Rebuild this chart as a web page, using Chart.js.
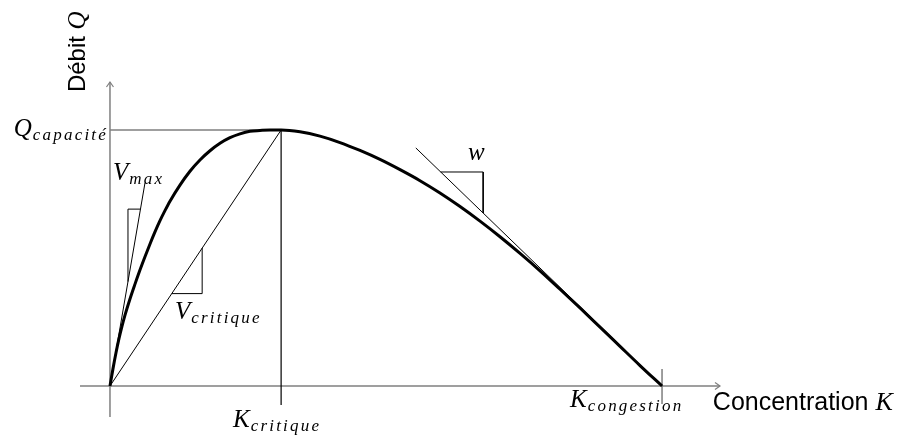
<!DOCTYPE html>
<html>
<head>
<meta charset="utf-8">
<script src="https://cdn.jsdelivr.net/npm/chart.js@4"></script>
<style>
  body { margin: 0; background: #fff; }
  #wrap { width: 911px; height: 437px; }
</style>
</head>
<body>
<div id="wrap"><canvas id="chart"></canvas></div>
<script>
// courbe debit-concentration, K en % de K_congestion, Q en % de Q_capacite
const courbeK = [0, 0.54, 1.09, 1.63, 2.17, 2.72, 3.62, 4.53, 5.43, 6.34, 7.25, 8.15, 9.06, 9.96, 10.87,
    12.68, 14.49, 16.30, 18.12, 19.93, 21.74, 23.55, 25.36, 27.17, 28.99, 31,
    34.42, 38.04, 41.67, 45.29, 48.91, 52.54, 56.16, 59.78, 63.41, 67.03, 70.65, 74.28, 77.90,
    81.52, 85.14, 88.77, 92.39, 96.01, 100];
const courbeQ = [0, 6.7, 13.0, 18.5, 23.3, 27.7, 34.0, 39.8, 45.3, 50.5, 55.5, 60.2, 64.6, 68.5, 72.2,
    78.5, 83.9, 88.3, 91.9, 94.8, 97.0, 98.5, 99.5, 99.8, 100, 100,
    99.3, 97.6, 95.1, 92.0, 88.5, 84.5, 80.2, 75.4, 70.1, 64.4, 58.3, 51.8, 45.0,
    37.8, 30.5, 23.0, 15.5, 8.0, 0];

const K_CRITIQUE = 31;
const K_CONGESTION = 100;
const Q_CAPACITE = 100;

// bornes des axes
const axeK = [-5.43, 110.5];
const axeQ = [-12.1, 118.75];

// droites et triangles de pente
const vmaxK = [0, 6.34], vmaxQ = [0, 79.3];
const triVmaxK = [3.26, 3.26, 5.52], triVmaxQ = [40.8, 69.1, 69.1];
const vcritK = [0, K_CRITIQUE], vcritQ = [0, Q_CAPACITE];
const triVcritK = [11.2, 16.7, 16.7], triVcritQ = [36.1, 36.1, 53.9];
const wK = [55.4, K_CONGESTION], wQ = [93, 0];
const triWK = [59.9, 67.6, 67.6], triWQ = [83.6, 83.6, 67.6];

const pts = (ks, qs) => ks.map((k, i) => ({ x: k, y: qs[i] }));

const GRIS = '#7f7f7f';
const NOIR = '#000';

function trait(data, color, width, extra) {
    return Object.assign({
        data: data,
        showLine: true,
        borderColor: color,
        borderWidth: width,
        pointRadius: 0,
        fill: false,
        clip: false
    }, extra || {});
}

const etiquettes = [
    { main: 'Q', sub: 'capacité', k: -0.36, q: 97.7, align: 'right' },
    { main: 'V', sub: 'max', k: 0.54, q: 80.5 },
    { main: 'V', sub: 'critique', k: 11.78, q: 26.2 },
    { main: 'w', sub: '', k: 64.86, q: 88.3 },
    { main: 'K', sub: 'critique', k: 22.28, q: -16.0 },
    { main: 'K', sub: 'congestion', k: 83.33, q: -8.2 }
];

const SERIF = '"Liberation Serif", "Times New Roman", serif';
const SANS = '"Liberation Sans", Arial, sans-serif';

function drawMath(ctx, main, sub, x, y, align) {
    ctx.font = 'italic 25px ' + SERIF;
    ctx.letterSpacing = '0px';
    const wMain = ctx.measureText(main).width;
    ctx.font = 'italic 17px ' + SERIF;
    ctx.letterSpacing = '2.2px';
    const wSub = sub ? ctx.measureText(sub).width : 0;
    let x0 = align === 'right' ? x - wMain - wSub - 1 : x;
    ctx.textAlign = 'left';
    ctx.textBaseline = 'alphabetic';
    ctx.font = 'italic 25px ' + SERIF;
    ctx.letterSpacing = '0px';
    ctx.fillText(main, x0, y);
    if (sub) {
        ctx.font = 'italic 17px ' + SERIF;
        ctx.letterSpacing = '2.2px';
        ctx.fillText(sub, x0 + wMain + 1, y + 4);
    }
    ctx.letterSpacing = '0px';
}

const decor = {
    id: 'decor',
    afterDraw(chart) {
        const ctx = chart.ctx;
        const xs = chart.scales.x, ys = chart.scales.y;
        ctx.save();
        // fleches des axes
        ctx.strokeStyle = GRIS;
        ctx.lineWidth = 1.2;
        const xe = xs.getPixelForValue(axeK[1]), y0 = ys.getPixelForValue(0);
        ctx.beginPath();
        ctx.moveTo(xe - 5, y0 - 3.5); ctx.lineTo(xe, y0); ctx.lineTo(xe - 5, y0 + 3.5);
        ctx.stroke();
        const x0 = xs.getPixelForValue(0), ye = ys.getPixelForValue(axeQ[1]);
        ctx.beginPath();
        ctx.moveTo(x0 - 3.5, ye + 5); ctx.lineTo(x0, ye); ctx.lineTo(x0 + 3.5, ye + 5);
        ctx.stroke();

        ctx.fillStyle = NOIR;
        etiquettes.forEach(e => {
            drawMath(ctx, e.main, e.sub, xs.getPixelForValue(e.k), ys.getPixelForValue(e.q), e.align);
        });

        // titre axe horizontal
        let tx = xs.getPixelForValue(109.2), ty = ys.getPixelForValue(-9.4);
        ctx.font = '25px ' + SANS;
        ctx.textAlign = 'left';
        ctx.fillText('Concentration ', tx, ty);
        let w1 = ctx.measureText('Concentration ').width;
        ctx.font = 'italic 26px ' + SERIF;
        ctx.fillText('K', tx + w1, ty);

        // titre axe vertical
        tx = xs.getPixelForValue(-4.53); ty = ys.getPixelForValue(114.8);
        ctx.translate(tx, ty);
        ctx.rotate(-Math.PI / 2);
        ctx.font = '24px ' + SANS;
        ctx.fillText('Débit ', 0, 0);
        w1 = ctx.measureText('Débit ').width;
        ctx.font = 'italic 25px ' + SERIF;
        ctx.fillText('Q', w1, 0);
        ctx.restore();
    }
};

const ctx = document.querySelector('#chart').getContext('2d');

const myChart = new Chart(ctx, {
    type: 'scatter',
    data: {
        datasets: [
            trait(pts(courbeK, courbeQ), NOIR, 3, { cubicInterpolationMode: 'monotone' }),
            trait(pts(vmaxK, vmaxQ), NOIR, 1),
            trait(pts(triVmaxK, triVmaxQ), NOIR, 1),
            trait(pts(vcritK, vcritQ), NOIR, 1),
            trait(pts(triVcritK, triVcritQ), NOIR, 1),
            trait(pts(wK, wQ), NOIR, 1),
            trait(pts(triWK, triWQ), NOIR, 1),
            trait(pts([K_CRITIQUE, K_CRITIQUE], [Q_CAPACITE, -7.4]), NOIR, 1.2),
            trait(pts([0, K_CRITIQUE], [Q_CAPACITE, Q_CAPACITE]), GRIS, 1.5),
            trait(pts([K_CONGESTION, K_CONGESTION], [6.6, -7]), GRIS, 1.5),
            trait(pts(axeK, [0, 0]), GRIS, 1.5),
            trait(pts([0, 0], axeQ), GRIS, 1.5)
        ]
    },
    options: {
        responsive: true,
        maintainAspectRatio: false,
        animation: false,
        layout: { padding: { left: 80, right: 191, top: 82, bottom: 20 } },
        scales: {
            x: { type: 'linear', min: axeK[0], max: axeK[1], display: false },
            y: { type: 'linear', min: axeQ[0], max: axeQ[1], display: false }
        },
        plugins: {
            legend: { display: false },
            tooltip: { enabled: false }
        },
        elements: { line: { borderCapStyle: 'butt' } }
    },
    plugins: [decor]
});
</script>
</body>
</html>
